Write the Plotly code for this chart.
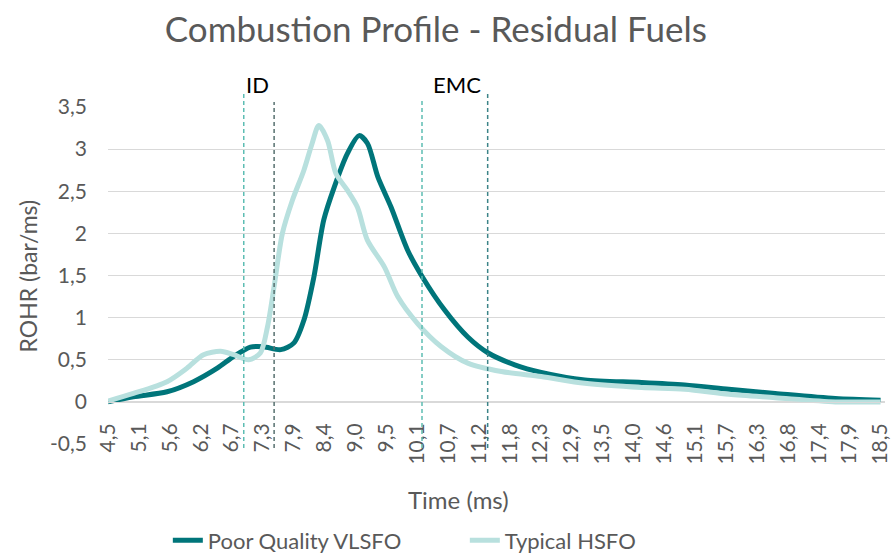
import plotly.graph_objects as go

# ---- data ----
vlsfo_x = [4.5, 4.96, 5.57, 6.05, 6.48, 6.78, 7.08, 7.32, 7.63, 7.87, 8.05, 8.23, 8.41, 8.60, 8.84,
           9.05, 9.20, 9.39, 9.63, 9.93, 10.20, 10.60, 11.02, 11.39, 11.87, 12.35, 13.14, 14.17,
           14.95, 15.75, 16.59, 17.68, 18.5]
vlsfo_y = [0.0, 0.06, 0.12, 0.24, 0.40, 0.54, 0.65, 0.655, 0.62, 0.70, 0.97, 1.48, 2.16, 2.55, 2.95,
           3.16, 3.07, 2.67, 2.31, 1.80, 1.48, 1.09, 0.77, 0.58, 0.44, 0.35, 0.26, 0.23,
           0.20, 0.15, 0.10, 0.04, 0.02]

hsfo_x = [4.5, 4.96, 5.57, 5.93, 6.23, 6.54, 6.78, 7.05, 7.26, 7.39, 7.51, 7.66, 7.84, 8.05, 8.20,
          8.32, 8.48, 8.63, 8.84, 9.02, 9.20, 9.51, 9.75, 10.11, 10.54, 11.02, 11.63, 12.35, 13.14,
          14.17, 14.95, 15.75, 16.59, 17.68, 18.5]
hsfo_y = [0.01, 0.10, 0.24, 0.40, 0.56, 0.60, 0.56, 0.50, 0.58, 0.89, 1.37, 2.00, 2.39, 2.75, 3.07,
          3.28, 3.10, 2.71, 2.51, 2.31, 1.92, 1.60, 1.25, 0.93, 0.655, 0.46, 0.36, 0.30, 0.22,
          0.17, 0.15, 0.09, 0.05, 0.0, 0.0]

x_tick_labels = ["4,5", "5,1", "5,6", "6,2", "6,7", "7,3", "7,9", "8,4", "9,0", "9,5", "10,1", "10,7",
                 "11,2", "11,8", "12,3", "12,9", "13,5", "14,0", "14,6", "15,1", "15,7", "16,3",
                 "16,8", "17,4", "17,9", "18,5"]
x_tick_vals = [4.5 + 0.56 * i for i in range(len(x_tick_labels))]

y_tick_vals = [-0.5, 0, 0.5, 1, 1.5, 2, 2.5, 3, 3.5]
y_tick_labels = ["-0,5", "0", "0,5", "1", "1,5", "2", "2,5", "3", "3,5"]

markers = [  # (time, colour, top in paper units)
    (6.96, "#5DBDB3", 1.042),
    (7.51, "#56706F", 1.015),
    (10.19, "#5DBDB3", 1.021),
    (11.38, "#3C8488", 1.042),
]

FONT = "Lato"
GREY = "#595959"
DARK = "#00757A"
LIGHT = "#B8E0DE"

fig = go.Figure()
fig.add_trace(go.Scatter(x=vlsfo_x, y=vlsfo_y, mode="lines", name="Poor Quality VLSFO",
                         line=dict(color=DARK, width=5, shape="spline", smoothing=0.8)))
fig.add_trace(go.Scatter(x=hsfo_x, y=hsfo_y, mode="lines", name="Typical HSFO",
                         line=dict(color=LIGHT, width=5, shape="spline", smoothing=0.8)))

shapes = []
for t, c, top in markers:
    shapes.append(dict(type="line", xref="x", yref="paper", x0=t, x1=t, y0=-0.012, y1=top,
                       line=dict(color=c, width=1.5, dash="4px,3px"), layer="above"))

annotations = [
    dict(text="ID", x=6.97, y=1.067, xref="x", yref="paper", xanchor="left", yanchor="middle",
         showarrow=False, font=dict(family=FONT, size=22, color="#000000")),
    dict(text="EMC", x=10.36, y=1.067, xref="x", yref="paper", xanchor="left", yanchor="middle",
         showarrow=False, font=dict(family=FONT, size=22, color="#000000")),
    dict(text="Time (ms)", x=0.451, y=-0.166, xref="paper", yref="paper", xanchor="center",
         yanchor="middle", showarrow=False, font=dict(family=FONT, size=24, color=GREY)),
    dict(text="ROHR (bar/ms)", x=-0.103, y=0.50, xref="paper", yref="paper", xanchor="center",
         yanchor="middle", showarrow=False, textangle=-90,
         font=dict(family=FONT, size=23, color=GREY)),
]

fig.update_layout(
    width=895, height=556,
    margin=dict(l=108, r=10, t=107, b=112, autoexpand=False),
    paper_bgcolor="white", plot_bgcolor="white",
    title=dict(text="Combustion Profile - Residual Fuels", x=0.487, xanchor="center",
               y=0.946, yanchor="middle", font=dict(family=FONT, size=35, color=GREY)),
    font=dict(family=FONT, color=GREY),
    xaxis=dict(range=[4.5, 18.58], tickvals=x_tick_vals, ticktext=x_tick_labels,
               tickangle=-90, anchor="free", position=0.125, showgrid=False,
               showline=True, linecolor="#D9D9D9", linewidth=1, ticks="",
               zeroline=False, tickfont=dict(family=FONT, size=21, color=GREY),
               ticklabelstandoff=12, automargin=False),
    yaxis=dict(range=[-0.5, 3.5], tickvals=y_tick_vals, ticktext=y_tick_labels,
               showgrid=True, gridcolor="#D9D9D9", gridwidth=1, zeroline=False,
               showline=False, ticks="", tickfont=dict(family=FONT, size=21, color=GREY),
               ticklabelstandoff=20, automargin=False),
    legend=dict(orientation="h", x=0.077, xanchor="left", yref="container", y=0.028,
                yanchor="middle", entrywidth=252, entrywidthmode="pixels",
                font=dict(family=FONT, size=22, color=GREY), bgcolor="rgba(0,0,0,0)"),
    shapes=shapes, annotations=annotations,
)

fig.write_html("out.html", config={"displayModeBar": False},
               post_script="document.body.style.margin='0';")
